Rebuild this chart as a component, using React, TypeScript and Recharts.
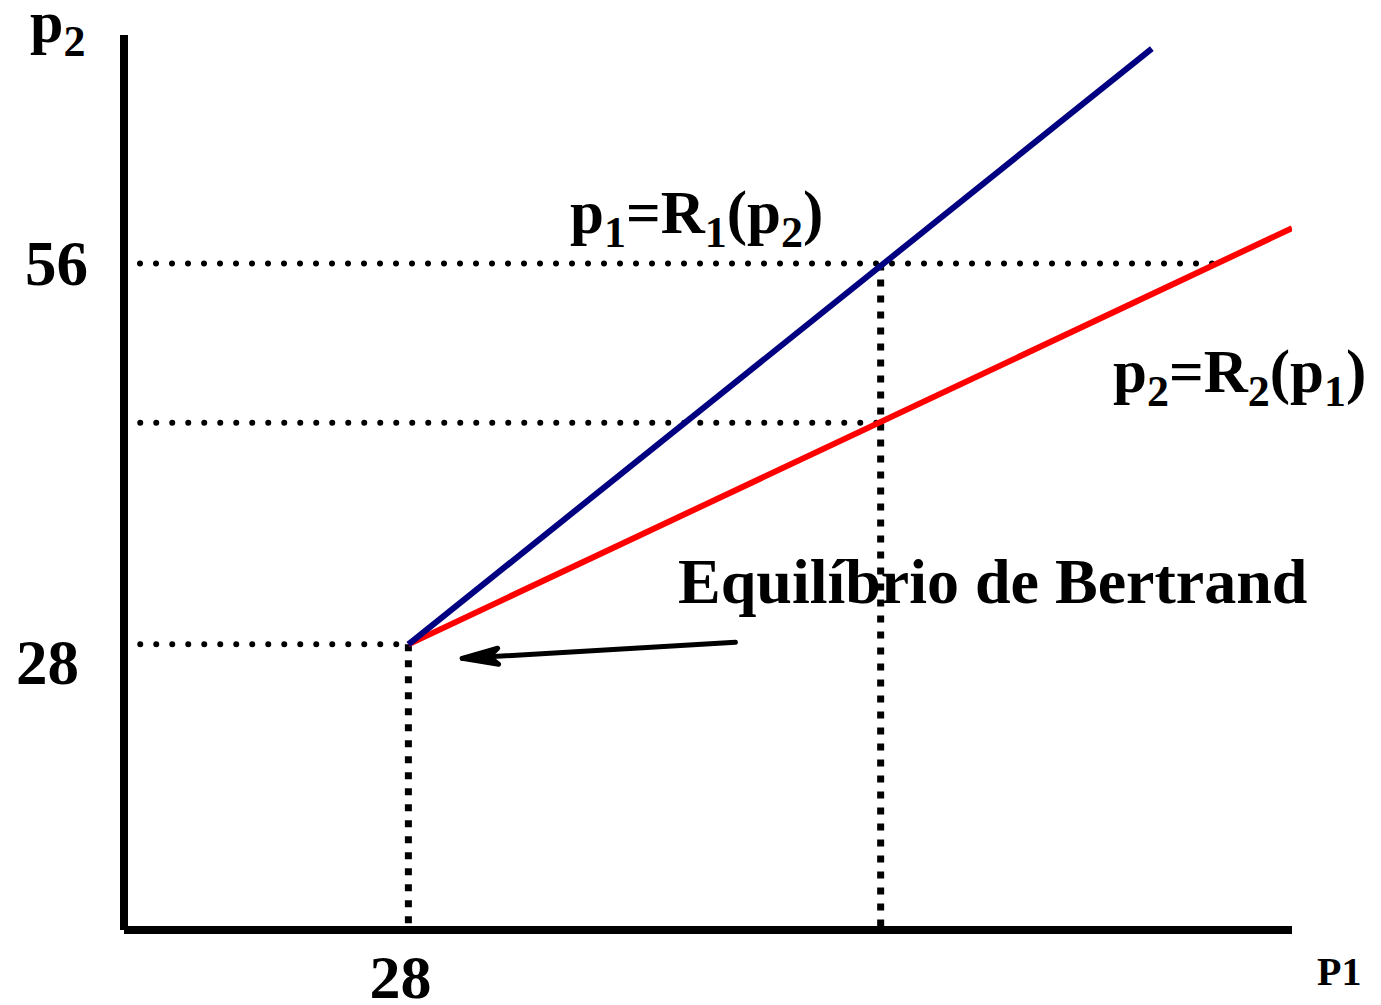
import { ComposedChart, Line, XAxis, YAxis } from 'recharts';

// reaction functions, in chart units (p1 on x, p2 on y)
const blueLine = [
  { x: 28, y: 28 },
  { x: 101.2, y: 71.8 },
];
const redLine = [
  { x: 28, y: 28 },
  { x: 115, y: 58.6 },
];

// dotted guide lines
const guide56 = [
  { x: 0, y: 56 },
  { x: 107.2, y: 56 },
];
const guideMid = [
  { x: 1.6, y: 44.3 },
  { x: 74.5, y: 44.3 },
];
const guide28 = [
  { x: 1.6, y: 28 },
  { x: 28, y: 28 },
];
const vert28 = [
  { x: 28, y: 28 },
  { x: 28, y: 7 },
];
const vertMid = [
  { x: 74.5, y: 56 },
  { x: 74.5, y: 7 },
];

// arrow pointing at the equilibrium
const arrowLine = [
  { x: 60.2, y: 28.15 },
  { x: 33.3, y: 26.97 },
];

const xTicks = [28];
const yTicks = [28, 56];

const FONT = '"Liberation Serif", "Times New Roman", serif';

const yTickShift: Record<number, { dx: number; dy: number }> = {
  28: { dx: -45, dy: 40 },
  56: { dx: -36, dy: 21 },
};

const YTick = (props: any) => {
  const { x, y, payload } = props;
  const s = yTickShift[payload.value] ?? { dx: -40, dy: 20 };
  return (
    <text x={x + s.dx} y={y + s.dy} textAnchor="end" fontFamily={FONT} fontWeight="bold" fontSize={63} fill="#000">
      {payload.value}
    </text>
  );
};

const XTick = (props: any) => {
  const { x, y, payload } = props;
  return (
    <text x={x - 8} y={y + 68} textAnchor="middle" fontFamily={FONT} fontWeight="bold" fontSize={62} fill="#000">
      {payload.value}
    </text>
  );
};

const ArrowHead = (props: any) => {
  const { cx, cy, index, points } = props;
  if (index !== 1) return <g key={`a-${index}`} />;
  let angle = Math.atan2(-16, -273);
  if (points && points.length > 1) {
    angle = Math.atan2(points[1].y - points[0].y, points[1].x - points[0].x);
  }
  const deg = (angle * 180) / Math.PI;
  return (
    <g key={`a-${index}`} transform={`translate(${cx},${cy}) rotate(${deg})`}>
      <path d="M0,0 L-36,-8 L-27,0 L-36,8 Z" fill="#000" stroke="#000" strokeWidth={5} strokeLinejoin="round" />
    </g>
  );
};

const dotted = { stroke: '#000', strokeWidth: 6, strokeDasharray: '0 16', strokeLinecap: 'round' as const };
const squares = { stroke: '#000', strokeWidth: 7, strokeDasharray: '7 9' };

const Sub = ({ children }: { children: string }) => (
  <tspan fontSize={44} dy={14}>
    {children}
  </tspan>
);

export default function App() {
  return (
    <div style={{ position: 'absolute', left: 0, top: 0, width: 1381, height: 1005, background: '#fff' }}>
      <ComposedChart width={1381} height={1005} margin={{ top: 35, right: 89, bottom: 45, left: 64 }}>
        <XAxis
          dataKey="x"
          type="number"
          domain={[0, 115]}
          ticks={xTicks}
          allowDataOverflow
          tickLine={false}
          tickSize={0}
          tickMargin={0}
          tick={<XTick />}
          axisLine={{ stroke: '#000', strokeWidth: 8 }}
        />
        <YAxis
          type="number"
          domain={[7, 72.8]}
          ticks={yTicks}
          allowDataOverflow
          tickLine={false}
          tickSize={0}
          tickMargin={0}
          tick={<YTick />}
          axisLine={{ stroke: '#000', strokeWidth: 8 }}
        />
        <Line data={guide56} dataKey="y" type="linear" {...dotted} dot={false} activeDot={false} isAnimationActive={false} />
        <Line data={guideMid} dataKey="y" type="linear" {...dotted} dot={false} activeDot={false} isAnimationActive={false} />
        <Line data={guide28} dataKey="y" type="linear" {...dotted} dot={false} activeDot={false} isAnimationActive={false} />
        <Line data={vert28} dataKey="y" type="linear" {...squares} dot={false} activeDot={false} isAnimationActive={false} />
        <Line data={vertMid} dataKey="y" type="linear" {...squares} dot={false} activeDot={false} isAnimationActive={false} />
        <Line data={redLine} dataKey="y" type="linear" stroke="#ff0000" strokeWidth={6} dot={false} activeDot={false} isAnimationActive={false} />
        <Line data={blueLine} dataKey="y" type="linear" stroke="#000080" strokeWidth={6} dot={false} activeDot={false} isAnimationActive={false} />
        <Line data={arrowLine} dataKey="y" type="linear" stroke="#000" strokeWidth={5} strokeLinecap="round" dot={ArrowHead} activeDot={false} isAnimationActive={false} />
      </ComposedChart>
      <svg width={1381} height={1005} style={{ position: 'absolute', left: 0, top: 0, pointerEvents: 'none' }}>
        <g fontFamily={FONT} fontWeight="bold" fill="#000">
          <text x={30} y={42} fontSize={60}>
            p<Sub>2</Sub>
          </text>
          <text x={570} y={233} fontSize={61}>
            p<Sub>1</Sub>
            <tspan dy={-14}>=R</tspan>
            <Sub>1</Sub>
            <tspan dy={-14}>(p</tspan>
            <Sub>2</Sub>
            <tspan dy={-14}>)</tspan>
          </text>
          <text x={1113} y={392} fontSize={61}>
            p<Sub>2</Sub>
            <tspan dy={-14}>=R</tspan>
            <Sub>2</Sub>
            <tspan dy={-14}>(p</tspan>
            <Sub>1</Sub>
            <tspan dy={-14}>)</tspan>
          </text>
          <text x={678} y={603} fontSize={64}>
            Equilíbrio de Bertrand
          </text>
          <text x={1317} y={985} fontSize={40}>
            P1
          </text>
        </g>
      </svg>
    </div>
  );
}
